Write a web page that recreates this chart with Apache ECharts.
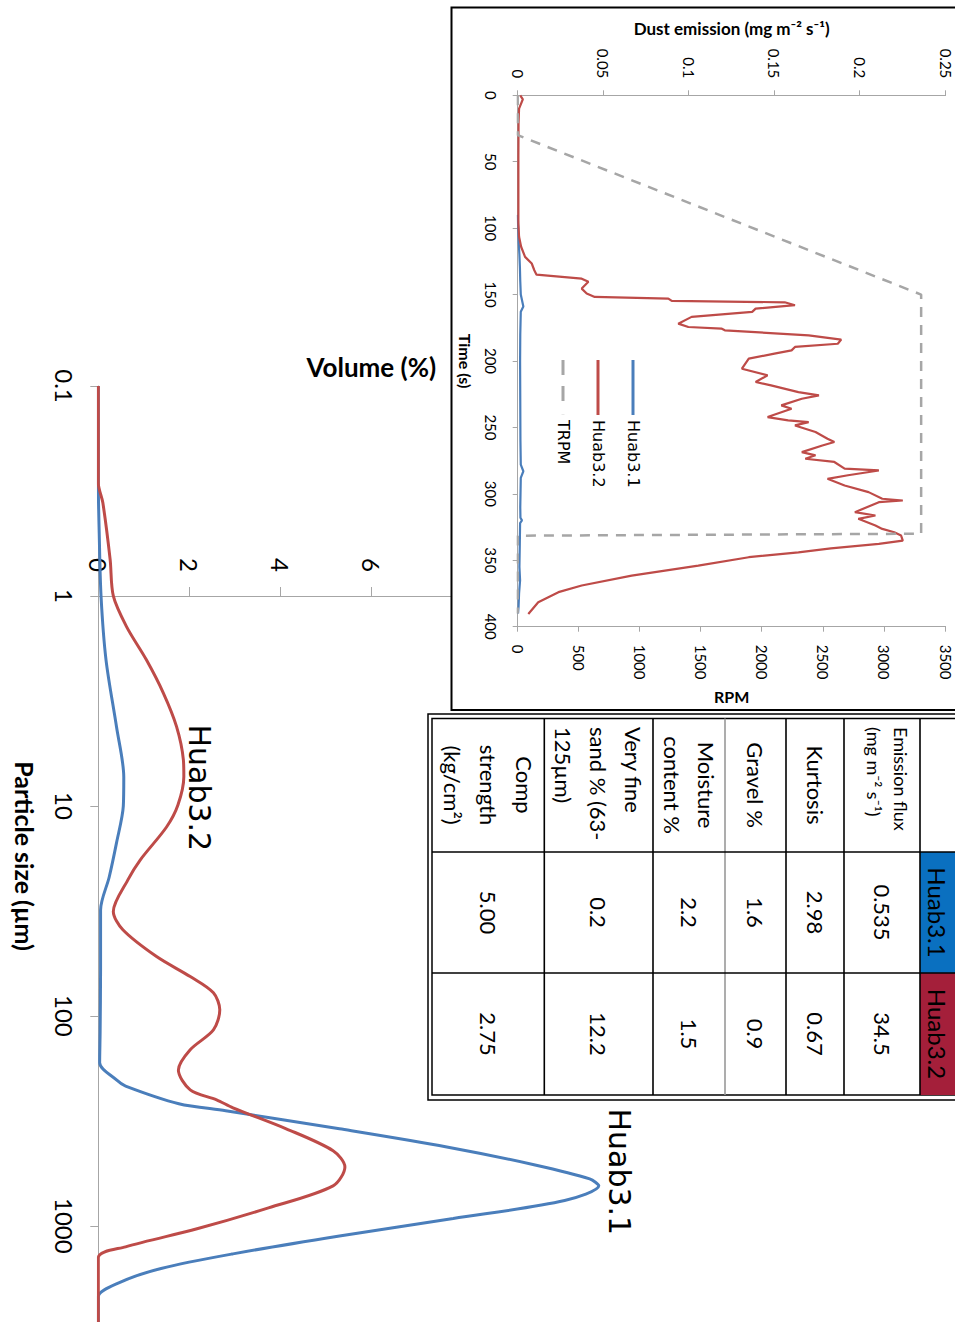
<!DOCTYPE html>
<html><head><meta charset="utf-8">
<script src="https://cdn.jsdelivr.net/npm/echarts/dist/echarts.min.js"></script>
<style>
html,body{margin:0;padding:0;background:#fff;}
body{width:955px;height:1322px;overflow:hidden;position:relative;}
#chart{position:absolute;left:0;top:0;width:1340px;height:955px;transform-origin:0 0;transform:translate(955px,0) rotate(90deg);}
</style></head><body><div id="chart"></div>
<script>
// ---------- DATA ----------
// Particle size distribution: [particle size (µm), volume (%)]
const psdHuab31 = [[0.1,0],[0.29,0],[0.5,0.02],[1.0,0.06],[2.02,0.17],[4.2,0.4],[7.3,0.56],[10,0.55],[15,0.4],[21.8,0.24],[31.3,0.05],[60,0.05],[120,0.04],[167,0.03],[202,0.4],[216,0.6],[262,1.77],[283,2.8],[345,5.3],[421,7.66],[513,9.6],[598,10.8],[645,11.0],[758,10.25],[923,7.8],[1117,5.3],[1360,2.96],[1596,1.38],[1868,0.45],[2178,0],[3000,0]];
const psdHuab32 = [[0.1,0],[0.29,0],[0.36,0.1],[0.67,0.26],[1.0,0.33],[1.4,0.62],[2.02,1.06],[2.9,1.43],[4.19,1.72],[6.04,1.87],[7.24,1.88],[9.9,1.75],[12.6,1.5],[18.1,0.92],[22.5,0.65],[31.8,0.33],[38.9,0.54],[52.2,1.28],[65,2.02],[77.7,2.53],[93.6,2.67],[116.6,2.53],[145,2.02],[181,1.76],[225,2.02],[251,2.6],[274,2.96],[345,4.13],[439,5.16],[524,5.42],[645,5.16],[821,3.74],[1033,2.17],[1259,0.6],[1420,0],[3000,0]];
// Inset: [time (s), dust emission (mg m-2 s-1)]
const emissionHuab31 = [[90,0],[100,0.0003],[111,0.0006],[120,0.001],[130,0.0013],[140,0.0015],[150,0.0018],[159,0.0033],[163,0.0018],[180,0.0015],[200,0.0014],[230,0.0015],[260,0.0016],[278,0.0018],[283,0.0033],[288,0.0018],[310,0.0015],[318,0.0016],[320,0.0025],[322,0.0014],[340,0.0012],[355,0.001],[365,0.0014],[375,0.0008],[385,0.0005],[390,0.0002]];
const emissionHuab32 = [[0,0.0015],[3,0.003],[10,0.0008],[21,0.0005],[46,0.0004],[71,0.0004],[96.5,0.0004],[106.5,0.0008],[114,0.002],[121.6,0.0043],[126.6,0.0082],[131.7,0.0097],[135,0.011],[138,0.0374],[140.4,0.0413],[145.5,0.0374],[149.2,0.0403],[151.8,0.045],[153,0.088],[154.8,0.09],[155.8,0.156],[158,0.162],[160.6,0.139],[163,0.137],[166.8,0.1016],[171.9,0.0938],[174.4,0.0997],[175.6,0.119],[176.9,0.121],[180.7,0.17],[183.9,0.189],[187,0.187],[189.4,0.162],[192,0.16],[194.5,0.15],[198.2,0.135],[205.8,0.131],[210.8,0.146],[215.8,0.139],[218.3,0.148],[223.4,0.164],[225.9,0.176],[228.4,0.166],[233.4,0.154],[235.9,0.16],[242.2,0.146],[244.7,0.158],[246,0.17],[248.5,0.162],[253.5,0.174],[258.5,0.181],[261,0.185],[263.6,0.178],[268.6,0.166],[271,0.174],[273.6,0.168],[276,0.185],[281,0.191],[282.4,0.211],[286,0.193],[288.7,0.181],[293.7,0.191],[298.7,0.205],[303.7,0.213],[305,0.225],[306.3,0.211],[313.8,0.197],[316.3,0.209],[318.8,0.199],[323.9,0.209],[326.4,0.213],[328.9,0.22],[331.4,0.224],[335.2,0.225],[337.7,0.211],[341,0.183],[344,0.164],[347.7,0.135],[354,0.1055],[361.5,0.0666],[369,0.0374],[374,0.0238],[381.6,0.012],[390.5,0.0062]];
// Inset: [time (s), RPM]
const trpm = [[0,0],[30,0],[150,3300],[330,3300],[331.5,0],[390,0]];
const legendNames = ['Huab3.1','Huab3.2','TRPM'];
// Table
const tableHeader = ['Huab3.1','Huab3.2'];
const tableRowLabels = ['Emission flux\n(mg m\u207B\u00B2 s\u207B\u00B9)','Kurtosis','Gravel %','Moisture\ncontent %','Very fine\nsand % (63-\n125\u00B5m)','Comp\nstrength\n(kg/cm\u00B2)'];
const tableHuab31 = ['0.535','2.98','1.6','2.2','0.2','5.00'];
const tableHuab32 = ['34.5','0.67','0.9','1.5','12.2','2.75'];

// ---------- STYLE / LAYOUT ----------
const BLUE='#4a7ebb', RED='#be4b48', GREY='#a6a6a6', AX='#a6a6a6';
const F='Lato';
const fmt = v => String(parseFloat((+v).toPrecision(6)));
const ICON_SOLID='path://M0,0H55V3H0Z';
const ICON_DASH='path://M0,0H15V3H0Z M26,0H41V3H26Z M54.8,0H55V3H54.8Z';
const tblCols=[718,852,973,1095];
const tblRows=[-5,35,111,169,230,302,410.7,523];
const labelStyle=[
  {align:'left',x:727,size:18,lh:27},
  {align:'center',x:785,size:22,lh:34},
  {align:'center',x:785,size:22,lh:34},
  {align:'center',x:785,size:22,lh:34},
  {align:'left',x:727,size:22,lh:35},
  {align:'center',x:785,size:22,lh:36}
];

const graphics=[];
// inset box
graphics.push({type:'rect',z:3,shape:{x:7.5,y:-5,width:702.5,height:508.5},style:{fill:'#fff',stroke:'#000',lineWidth:2}});
// table box (double border)
graphics.push({type:'rect',z:3,shape:{x:714,y:-5,width:386,height:532},style:{fill:'#fff',stroke:'#000',lineWidth:1.5}});
graphics.push({type:'rect',z:3,shape:{x:718.4,y:-5,width:376.6,height:528},style:{fill:'#fff',stroke:'#000',lineWidth:1.5}});
// header cells
graphics.push({type:'rect',z:4,shape:{x:tblCols[1],y:-5,width:tblCols[2]-tblCols[1],height:40},style:{fill:'#0a70c0'}});
graphics.push({type:'rect',z:4,shape:{x:tblCols[2],y:-5,width:tblCols[3]-tblCols[2],height:40},style:{fill:'#a41f3a'}});
for(let i=1;i<tblRows.length-1;i++){
  graphics.push({type:'line',z:5,shape:{x1:718.4,y1:tblRows[i],x2:1095,y2:tblRows[i]},style:{stroke:i===4?'#999':'#000',lineWidth:1.6}});
}
for(let j=1;j<3;j++){
  graphics.push({type:'line',z:5,shape:{x1:tblCols[j],y1:-5,x2:tblCols[j],y2:523},style:{stroke:'#000',lineWidth:1.6}});
}
tableHeader.forEach((h,j)=>{
  graphics.push({type:'text',z:6,x:(tblCols[j+1]+tblCols[j+2])/2,y:18,style:{text:h,fill:'#000',fontSize:24,fontFamily:F,align:'center',verticalAlign:'middle'}});
});
tableRowLabels.forEach((lab,i)=>{
  const cy=(tblRows[i+1]+tblRows[i+2])/2;
  const s=labelStyle[i];
  graphics.push({type:'text',z:6,x:s.x,y:cy+(i===0?-5:0),style:{text:lab,fill:'#000',fontSize:s.size,lineHeight:s.lh,fontFamily:F,align:s.align,verticalAlign:'middle'}});
  graphics.push({type:'text',z:6,x:(tblCols[1]+tblCols[2])/2,y:cy,style:{text:tableHuab31[i],fill:'#000',fontSize:22,fontFamily:F,align:'center',verticalAlign:'middle'}});
  graphics.push({type:'text',z:6,x:(tblCols[2]+tblCols[3])/2,y:cy,style:{text:tableHuab32[i],fill:'#000',fontSize:22,fontFamily:F,align:'center',verticalAlign:'middle'}});
});

const chart = echarts.init(document.getElementById('chart'), null, {renderer:'svg', width:1340, height:955});
const axLine = {show:true, onZero:false, lineStyle:{color:AX,width:1}};
const curveLabel = (name, coord) => ({
  silent:true, symbol:'circle', symbolSize:1, itemStyle:{color:'rgba(0,0,0,0)'},
  label:{show:true, position:'top', distance:0, formatter:'{b}', color:'#000', fontSize:30, fontFamily:'DejaVu Sans'},
  data:[{name:name, coord:coord}]
});
chart.setOption({
  animation:false,
  backgroundColor:'#fff',
  grid:[
    {left:386, top:310.7, width:940, height:546, containLabel:false, outerBoundsMode:'none'},
    {left:95.3, top:9.4, width:531.4, height:427.9, containLabel:false, outerBoundsMode:'none'}
  ],
  xAxis:[
    {type:'log', gridIndex:0, logBase:10, min:0.1, max:3000, z:0,
     axisLine:axLine, axisTick:{show:true,length:8,lineStyle:{color:AX}}, splitLine:{show:false},
     axisLabel:{margin:22,fontSize:24,color:'#000',fontFamily:F,showMaxLabel:false,formatter:fmt},
     name:'Particle size (\u00B5m)', nameLocation:'middle', nameGap:61,
     nameTextStyle:{fontSize:25,fontWeight:'bold',color:'#000',fontFamily:F}},
    {type:'value', gridIndex:1, min:0, max:400, interval:50, z:10,
     axisLine:axLine, axisTick:{show:true,length:5,lineStyle:{color:AX}}, splitLine:{show:false},
     axisLabel:{margin:19,fontSize:15,color:'#000',fontFamily:F,formatter:fmt},
     name:'Time (s)', nameLocation:'middle', nameGap:44,
     nameTextStyle:{fontSize:16,fontWeight:'bold',color:'#000',fontFamily:F}}
  ],
  yAxis:[
    {type:'value', gridIndex:0, min:0, max:12, interval:2, position:'left', offset:-210, z:0,
     axisLine:axLine, axisTick:{show:true,length:9,lineStyle:{color:AX}}, splitLine:{show:false},
     axisLabel:{margin:24,fontSize:24,color:'#000',fontFamily:F,formatter:fmt},
     name:'Volume (%)', nameLocation:'middle', nameRotate:90, nameGap:216,
     nameTextStyle:{fontSize:26,fontWeight:'bold',color:'#000',fontFamily:F}},
    {type:'value', gridIndex:1, min:0, max:0.25, interval:0.05, position:'left', z:10,
     axisLine:axLine, axisTick:{show:true,length:5,lineStyle:{color:AX}}, splitLine:{show:false},
     axisLabel:{margin:17,fontSize:15,color:'#000',fontFamily:F,formatter:fmt},
     name:'Dust emission (mg m\u207B\u00B2 s\u207B\u00B9)', nameLocation:'middle', nameRotate:90, nameGap:58,
     nameTextStyle:{fontSize:17,fontWeight:'bold',color:'#000',fontFamily:F}},
    {type:'value', gridIndex:1, min:0, max:3500, interval:500, position:'right', z:10,
     axisLine:axLine, axisTick:{show:true,length:5,lineStyle:{color:AX}}, splitLine:{show:false},
     axisLabel:{margin:18,fontSize:15,color:'#000',fontFamily:F,formatter:fmt},
     name:'RPM', nameLocation:'middle', nameRotate:90, nameGap:62,
     nameTextStyle:{fontSize:16,fontWeight:'bold',color:'#000',fontFamily:F}}
  ],
  legend:{
    data:[{name:legendNames[0],icon:ICON_SOLID},{name:legendNames[1],icon:ICON_SOLID},{name:legendNames[2],icon:ICON_DASH}],
    orient:'vertical', left:355, top:309, itemWidth:55, itemHeight:14, itemGap:19, z:12,
    textStyle:{fontFamily:'DejaVu Sans',fontSize:16,color:'#000'}, selectedMode:false
  },
  graphic:{elements:graphics},
  series:[
    {name:'PSD Huab3.1', type:'line', xAxisIndex:0, yAxisIndex:0, data:psdHuab31, symbol:'none', smooth:0.3, z:2,
     lineStyle:{color:BLUE,width:3}, itemStyle:{color:BLUE}, markPoint:curveLabel('Huab3.1',[553,11.12])},
    {name:'PSD Huab3.2', type:'line', xAxisIndex:0, yAxisIndex:0, data:psdHuab32, symbol:'none', smooth:0.3, z:2,
     lineStyle:{color:RED,width:3}, itemStyle:{color:RED}, markPoint:curveLabel('Huab3.2',[8.2,1.88])},
    {name:legendNames[0], type:'line', xAxisIndex:1, yAxisIndex:1, data:emissionHuab31, symbol:'none', z:11,
     lineStyle:{color:BLUE,width:2.2}, itemStyle:{color:BLUE}},
    {name:legendNames[1], type:'line', xAxisIndex:1, yAxisIndex:1, data:emissionHuab32, symbol:'none', z:11,
     lineStyle:{color:RED,width:2.2}, itemStyle:{color:RED}},
    {name:legendNames[2], type:'line', xAxisIndex:1, yAxisIndex:2, data:trpm, symbol:'none', z:11,
     lineStyle:{color:GREY,width:2.5,type:[10,8]}, itemStyle:{color:GREY}}
  ]
});
</script></body></html>
